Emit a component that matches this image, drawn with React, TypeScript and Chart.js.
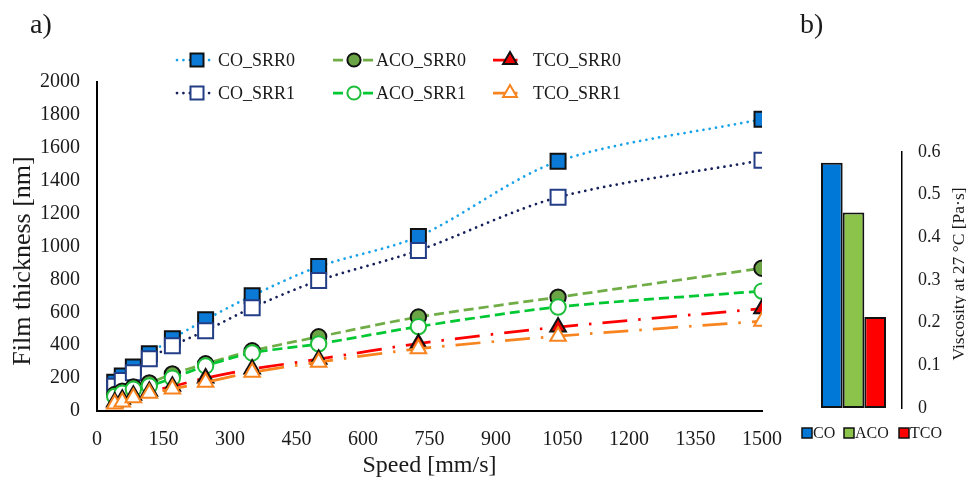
import React, { useEffect, useRef } from 'react';
import { Chart, registerables } from 'chart.js';

Chart.register(...registerables);

// ---------- data ----------
const speeds = [40, 57, 82, 118, 170, 245, 350, 500, 725, 1040, 1500];
const coSrr0 = [175, 213, 268, 348, 439, 555, 701, 878, 1061, 1518, 1774];
const coSrr1 = [150, 185, 232, 317, 396, 488, 628, 793, 976, 1299, 1524];
const acoSrr0 = [100, 120, 146, 171, 225, 287, 366, 451, 571, 692, 868];
const acoSrr1 = [88, 108, 132, 152, 200, 274, 353, 408, 513, 632, 729];
const tcoSrr0 = [55, 72, 95, 120, 150, 200, 255, 315, 410, 510, 622];
const tcoSrr1 = [43, 55, 80, 108, 134, 175, 235, 297, 378, 455, 546];

const legendOrder = ['CO_SRR0', 'ACO_SRR0', 'TCO_SRR0', 'CO_SRR1', 'ACO_SRR1', 'TCO_SRR1'];

const oils = ['CO', 'ACO', 'TCO'];
const viscosity = [0.575, 0.458, 0.213];

const thicknessMax = 2000;
const thicknessStep = 200;
const speedMax = 1500;
const speedStep = 150;
const viscMax = 0.6;
const viscStep = 0.1;

const yTitle = 'Film thickness [nm]';
const xTitle = 'Speed [mm/s]';
const viscTitle = 'Viscosity at 27 °C [Pa·s]';

// ---------- styles ----------
const FONT = "'Liberation Serif', 'Times New Roman', serif";
const TEXT = '#1a1a1a';

type St = {
  line: string; dash: number[]; cap: CanvasLineCap; point: 'rect' | 'circle' | 'triangle';
  fill: string; stroke: string; r: number; lr: number;
};
const STYLES: Record<string, St> = {
  CO_SRR0: { line: '#18A2EA', dash: [0.01, 6.4], cap: 'round', point: 'rect', fill: '#0A7AD6', stroke: '#111111', r: 10.6, lr: 9.2 },
  CO_SRR1: { line: '#15205A', dash: [0.01, 6.4], cap: 'round', point: 'rect', fill: '#ffffff', stroke: '#233E86', r: 10.6, lr: 9.2 },
  ACO_SRR0: { line: '#70AD47', dash: [10, 5], cap: 'butt', point: 'circle', fill: '#6AA444', stroke: '#111111', r: 7.7, lr: 6.6 },
  ACO_SRR1: { line: '#00C832', dash: [10, 5], cap: 'butt', point: 'circle', fill: '#ffffff', stroke: '#1DBE3A', r: 7.7, lr: 6.6 },
  TCO_SRR0: { line: '#FF0000', dash: [25, 11, 2.5, 11], cap: 'butt', point: 'triangle', fill: '#EE0000', stroke: '#111111', r: 9, lr: 8 },
  TCO_SRR1: { line: '#F7841F', dash: [25, 11, 2.5, 11], cap: 'butt', point: 'triangle', fill: '#ffffff', stroke: '#F7841F', r: 9, lr: 8 },
};
const BAR_COLORS = ['#0078D7', '#8CC34B', '#FF0000'];

function drawMarker(ctx: CanvasRenderingContext2D, kind: string, x: number, y: number, r: number) {
  ctx.beginPath();
  if (kind === 'rect') {
    const s = r * Math.SQRT1_2;
    ctx.rect(x - s, y - s, 2 * s, 2 * s);
  } else if (kind === 'circle') {
    ctx.arc(x, y, r, 0, Math.PI * 2);
  } else {
    ctx.moveTo(x, y - r);
    ctx.lineTo(x + 0.866 * r, y + r / 2);
    ctx.lineTo(x - 0.866 * r, y + r / 2);
    ctx.closePath();
  }
  ctx.fill();
  ctx.stroke();
}

// legend layout (line start, marker centre, text start) per column; row centres
const LEG_COLS = [
  { x0: 177, m: 197, x1: 212, t: 218 },
  { x0: 333, m: 354, x1: 373, t: 376 },
  { x0: 493, m: 510, x1: 524, t: 533 },
];
const LEG_ROWS = [60, 93];

const leftDecor = {
  id: 'leftDecor',
  afterDraw(chart: any) {
    const ctx: CanvasRenderingContext2D = chart.ctx;
    ctx.save();
    ctx.fillStyle = TEXT;
    ctx.font = `28px ${FONT}`;
    ctx.textBaseline = 'middle';
    ctx.textAlign = 'left';
    ctx.fillText('a)', 30, 26);
    // y axis title
    ctx.save();
    ctx.translate(23, 261);
    ctx.rotate(-Math.PI / 2);
    ctx.textAlign = 'center';
    ctx.font = `26px ${FONT}`;
    ctx.fillText(yTitle, 0, 0);
    ctx.restore();
    legendOrder.forEach((name, i) => {
      const st = STYLES[name];
      const col = LEG_COLS[i % 3];
      const y = LEG_ROWS[Math.floor(i / 3)];
      ctx.save();
      ctx.strokeStyle = st.line;
      ctx.lineWidth = 2.75;
      ctx.lineCap = st.cap;
      ctx.setLineDash(st.point === 'triangle' ? [14, 8, 2.5, 8] : st.dash);
      ctx.beginPath();
      ctx.moveTo(col.x0, y);
      ctx.lineTo(col.x1, y);
      ctx.stroke();
      ctx.restore();
      ctx.save();
      ctx.fillStyle = st.fill;
      ctx.strokeStyle = st.stroke;
      ctx.lineWidth = 2;
      drawMarker(ctx, st.point, col.m, y, st.lr);
      ctx.restore();
      ctx.fillStyle = TEXT;
      ctx.font = `18px ${FONT}`;
      ctx.textBaseline = 'middle';
      ctx.textAlign = 'left';
      ctx.fillText(name, col.t, y + 1);
    });
    ctx.restore();
  },
};

const rightDecor = {
  id: 'rightDecor',
  afterDraw(chart: any) {
    const ctx: CanvasRenderingContext2D = chart.ctx;
    ctx.save();
    ctx.fillStyle = TEXT;
    ctx.font = `28px ${FONT}`;
    ctx.textBaseline = 'middle';
    ctx.textAlign = 'left';
    ctx.fillText('b)', 10, 26);
    // axis title (reads bottom to top)
    ctx.save();
    ctx.translate(169, 274);
    ctx.rotate(-Math.PI / 2);
    ctx.textAlign = 'center';
    ctx.font = `17.5px ${FONT}`;
    ctx.fillText(viscTitle, 0, 0);
    ctx.restore();
    // legend
    const boxes = [12, 54, 109];
    oils.forEach((oil, i) => {
      ctx.fillStyle = BAR_COLORS[i];
      ctx.strokeStyle = '#111';
      ctx.lineWidth = 1.5;
      ctx.fillRect(boxes[i], 428, 10, 10);
      ctx.strokeRect(boxes[i], 428, 10, 10);
      ctx.fillStyle = TEXT;
      ctx.font = `16px ${FONT}`;
      ctx.textAlign = 'left';
      ctx.fillText(oil, boxes[i] + 11, 434);
    });
    ctx.restore();
  },
};

const seriesData: Record<string, number[]> = {
  CO_SRR0: coSrr0, CO_SRR1: coSrr1, ACO_SRR0: acoSrr0, ACO_SRR1: acoSrr1, TCO_SRR0: tcoSrr0, TCO_SRR1: tcoSrr1,
};
// draw order: first dataset ends on top
const drawOrder = ['TCO_SRR1', 'TCO_SRR0', 'ACO_SRR1', 'ACO_SRR0', 'CO_SRR1', 'CO_SRR0'];

export default function App() {
  const leftRef = useRef<HTMLCanvasElement | null>(null);
  const rightRef = useRef<HTMLCanvasElement | null>(null);

  useEffect(() => {
    if (!leftRef.current || !rightRef.current) return;
    const tickFont = { family: FONT, size: 20 };
    const plain = (v: any) => String(v);
    const left = new Chart(leftRef.current, {
      type: 'line',
      data: {
        datasets: drawOrder.map((name) => {
          const st = STYLES[name];
          return {
            label: name,
            data: speeds.map((s, i) => ({ x: s, y: seriesData[name][i] })),
            borderColor: st.line,
            borderWidth: 2.75,
            borderDash: st.dash,
            borderCapStyle: st.cap,
            tension: 0.3,
            fill: false,
            pointStyle: st.point,
            pointRadius: st.r,
            pointBackgroundColor: st.fill,
            pointBorderColor: st.stroke,
            pointBorderWidth: 2,
          } as any;
        }),
      },
      options: {
        animation: false,
        responsive: false,
        layout: { padding: { left: 0, top: 82, right: 38, bottom: 0 } },
        plugins: { legend: { display: false }, tooltip: { enabled: false } },
        scales: {
          x: {
            type: 'linear',
            min: 0,
            max: speedMax,
            ticks: { stepSize: speedStep, font: tickFont, color: TEXT, padding: 17, maxRotation: 0, autoSkip: false, callback: plain },
            grid: { display: false, drawTicks: false },
            border: { display: true, color: '#000', width: 2 },
            title: { display: true, text: xTitle, font: { family: FONT, size: 24 }, color: TEXT, padding: { top: 0, bottom: 0 } },
            afterFit: (s: any) => { s.height = 69; },
          },
          y: {
            min: 0,
            max: thicknessMax,
            ticks: { stepSize: thicknessStep, font: tickFont, color: TEXT, padding: 17, callback: plain },
            grid: { display: false, drawTicks: false },
            border: { display: true, color: '#000', width: 2 },
            title: { display: false },
            afterFit: (s: any) => { s.width = 97; },
          },
        },
      } as any,
      plugins: [leftDecor],
    });

    const right = new Chart(rightRef.current, {
      type: 'bar',
      data: {
        labels: [''],
        datasets: oils.map((oil, i) => ({
          label: oil,
          data: [viscosity[i]],
          backgroundColor: BAR_COLORS[i],
          borderColor: '#111',
          borderWidth: 2,
          borderSkipped: false,
          barPercentage: 1,
          categoryPercentage: 0.67,
        })) as any,
      },
      options: {
        animation: false,
        responsive: false,
        layout: { padding: { left: 15, top: 152, right: 0, bottom: 72 } },
        plugins: { legend: { display: false }, tooltip: { enabled: false } },
        scales: {
          x: { display: false },
          y: {
            position: 'right',
            min: 0,
            max: viscMax,
            ticks: { stepSize: viscStep, font: { family: FONT, size: 18 }, color: TEXT, padding: 16 },
            grid: { display: false, drawTicks: false },
            border: { display: true, color: '#000', width: 1.5 },
            afterFit: (s: any) => { s.width = 64; },
          },
        },
      } as any,
      plugins: [rightDecor],
    });

    return () => {
      left.destroy();
      right.destroy();
    };
  }, []);

  return (
    <div style={{ position: 'absolute', left: 0, top: 0, width: 966, height: 480, background: '#fff' }}>
      <canvas ref={leftRef} width={800} height={480} style={{ position: 'absolute', left: 0, top: 0 }} />
      <canvas ref={rightRef} width={176} height={480} style={{ position: 'absolute', left: 790, top: 0 }} />
    </div>
  );
}
